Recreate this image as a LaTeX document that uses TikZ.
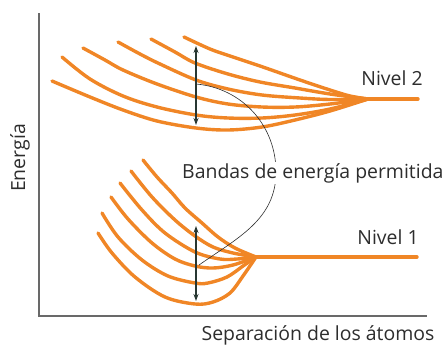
\documentclass[tikz,border=0pt]{standalone}
\usepackage{fontspec}
\setmainfont{Open Sans}
\usetikzlibrary{arrows.meta}
\definecolor{bandorange}{RGB}{240,134,38}
\definecolor{arrowdark}{RGB}{40,55,50}
\definecolor{axisgray}{RGB}{105,105,105}
\definecolor{labelgray}{RGB}{45,45,45}
\begin{document}
\begin{tikzpicture}[x=1bp,y=-1bp,
  band/.style={bandorange, line width=3.4bp, line cap=round, line join=round},
  axisline/.style={axisgray, line width=1.2bp},
  gaparrow/.style={arrowdark, line width=1.1bp, {Stealth[length=7bp,width=5bp]}-{Stealth[length=7bp,width=5bp]}},
  thinline/.style={labelgray, line width=0.6bp},
  lbl/.style={text=labelgray, font=\fontsize{19.5}{21}\selectfont, inner sep=1bp}]
\useasboundingbox (0,0) rectangle (446,347);

% axes
\coordinate (origin) at (39,316);
\coordinate (ytop) at (39,13);
\coordinate (xend) at (427,316);
\draw[axisline] (ytop) -- (origin) -- (xend);

% upper band (Nivel 2)
\coordinate (c2) at (368,99);
\coordinate (c2end) at (418,99);
\draw[band] (c2) -- (c2end);
\draw[band] plot[smooth, tension=0.55] coordinates {(184,37) (210,49) (230,56) (260,66) (300,80) (330,90) (350,96) (368,99)};
\draw[band] plot[smooth, tension=0.55] coordinates {(151,39) (175,52) (195,63) (228,74) (260,82) (295,88) (330,94) (368,99)};
\draw[band] plot[smooth, tension=0.55] coordinates {(118,42) (140,54) (160,64) (196,80) (228,89) (262,95) (300,98) (330,99.5) (368,99)};
\draw[band] plot[smooth, tension=0.55] coordinates {(83,48) (105,60) (123,70) (157,84) (196,97) (228,104) (262,107) (295,107) (330,104) (368,99)};
\draw[band] plot[smooth, tension=0.55] coordinates {(62,57) (90,79) (123,96) (157,107) (196,115) (228,118) (262,118) (295,115) (330,109) (368,99)};
\draw[band] plot[smooth, tension=0.55] coordinates {(52,81) (90,97) (123,110) (157,121) (196,128) (228,130) (262,127) (295,120) (330,111) (368,99)};

% lower band (Nivel 1)
\coordinate (c1) at (256,257);
\coordinate (c1end) at (417,257);
\draw[band] (c1) -- (c1end);
\draw[band] plot[smooth, tension=0.55] coordinates {(143,160) (157,177) (172,193) (185,208) (202,223) (218,237) (235,248) (256,257)};
\draw[band] plot[smooth, tension=0.55] coordinates {(131,171) (152,197) (175,220) (195,236) (213,247) (233,253) (256,257)};
\draw[band] plot[smooth, tension=0.55] coordinates {(120,183) (142,210) (165,233) (195,252) (220,259) (237,259) (256,257)};
\draw[band] plot[smooth, tension=0.55] coordinates {(111,197) (128,219) (152,243) (175,259) (195,266) (213,268) (233,265) (256,257)};
\draw[band] plot[smooth, tension=0.55] coordinates {(102,213) (118,237) (142,260) (168,276) (195,283) (208,283) (227,277) (243,266) (256,257)};
\draw[band] plot[smooth, tension=0.55] coordinates {(98,233) (112,253) (135,277) (165,297) (195,304) (213,302) (230,293) (243,276) (256,257)};

% gap arrows
\coordinate (ua) at (196,46);
\coordinate (ub) at (196,125);
\coordinate (la) at (196,226);
\coordinate (lb) at (196,301);
\draw[gaparrow] (ua) -- (ub);
\draw[gaparrow] (la) -- (lb);

% thin connector
\coordinate (uconn) at (196,84);
\coordinate (mid) at (276,172);
\coordinate (lconn) at (199,265);
\draw[thinline] (uconn) to[out=-5,in=90] (mid) to[out=-90,in=35] (lconn);

% labels
\node[lbl, fill=white, anchor=west] (bandas) at (181,173) {Bandas de energía permitida};
\node[lbl] (nivel2) at (392,78) {Nivel 2};
\node[lbl] (nivel1) at (388,237) {Nivel 1};
\node[lbl, rotate=90] (energia) at (20,158) {Energía};
\node[lbl, anchor=base] (sep) at (318,340) {Separación de los átomos};
\end{tikzpicture}
\end{document}
